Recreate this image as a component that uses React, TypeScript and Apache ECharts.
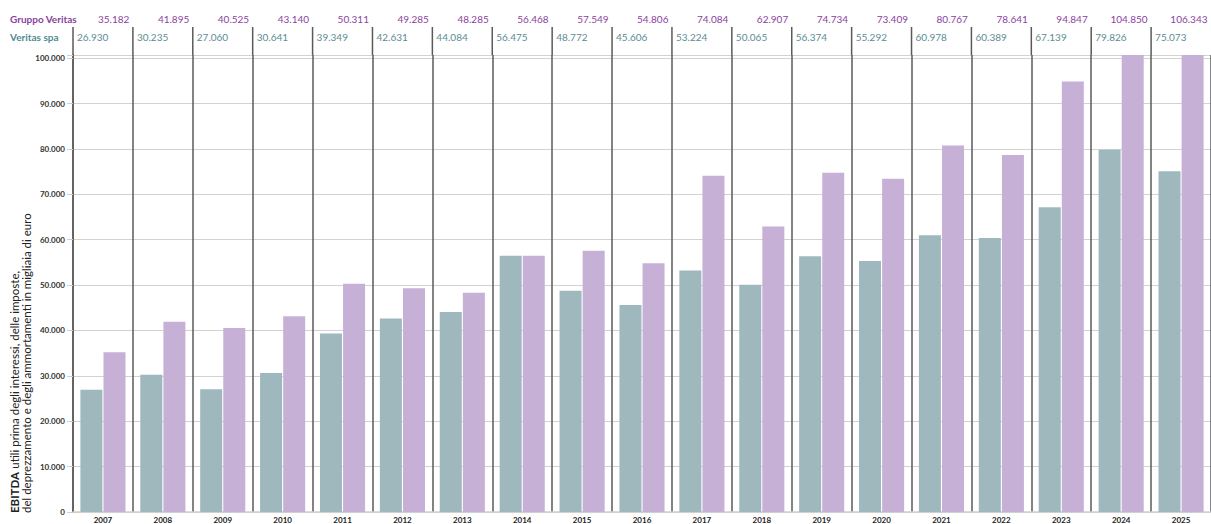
import React, { useEffect, useRef } from 'react';
import * as echarts from 'echarts';

const years = ['2007', '2008', '2009', '2010', '2011', '2012', '2013', '2014', '2015', '2016', '2017', '2018', '2019', '2020', '2021', '2022', '2023', '2024', '2025'];
const gruppoVeritas = [35182, 41895, 40525, 43140, 50311, 49285, 48285, 56468, 57549, 54806, 74084, 62907, 74734, 73409, 80767, 78641, 94847, 104850, 106343];
const veritasSpa = [26930, 30235, 27060, 30641, 39349, 42631, 44084, 56475, 48772, 45606, 53224, 50065, 56374, 55292, 60978, 60389, 67139, 79826, 75073];
const yTicks = [0, 10000, 20000, 30000, 40000, 50000, 60000, 70000, 80000, 90000, 100000];
const AXIS_MAX = 100700;

const FONT = 'Lato, "Noto Sans", sans-serif';
const PURPLE_TEXT = '#8b3fa0';
const TEAL_TEXT = '#5b8c93';
const TEAL_BAR = '#9fb8be';
const PURPLE_BAR = '#c6b0d6';
const SEP = '#5a5a5a';

const fmt = (v: number) => String(v).replace(/\B(?=(\d{3})+(?!\d))/g, '.');

export default function App() {
  const ref = useRef<HTMLDivElement>(null);
  useEffect(() => {
    if (!ref.current) return;
    const chart = echarts.init(ref.current, null, { renderer: 'svg' });
    chart.setOption({
      animation: false,
      backgroundColor: '#ffffff',
      grid: { left: 73, right: 0, top: 55, bottom: 12, containLabel: false },
      xAxis: {
        type: 'category',
        data: years,
        boundaryGap: true,
        axisLine: { show: true, lineStyle: { color: '#cfcfcf', width: 1.5 } },
        axisTick: { show: false },
        splitLine: { show: true, lineStyle: { color: SEP, width: 1.5 } },
        axisLabel: { color: '#222', fontSize: 8, fontWeight: 'bold', fontFamily: FONT, margin: 4 },
      },
      yAxis: {
        type: 'value',
        min: 0,
        max: AXIS_MAX,
        interval: 10000,
        axisLine: { show: true, lineStyle: { color: SEP, width: 1.5 } },
        axisTick: { show: true, length: 6, lineStyle: { color: '#cfcfcf' } },
        splitLine: { show: true, lineStyle: { color: '#d2d2d2', width: 1.2 } },
        axisLabel: {
          color: '#333',
          fontSize: 8,
          fontWeight: 'bold',
          fontFamily: FONT,
          margin: 8,
          formatter: (v: number) => (yTicks.indexOf(v) >= 0 ? fmt(v) : ''),
        },
      },
      series: [
        {
          name: 'Veritas spa',
          type: 'bar',
          data: veritasSpa,
          barWidth: 22,
          barGap: '5%',
          itemStyle: { color: TEAL_BAR },
          clip: true,
        },
        {
          name: 'Gruppo Veritas',
          type: 'bar',
          data: gruppoVeritas,
          barWidth: 22,
          barGap: '5%',
          itemStyle: { color: PURPLE_BAR },
          clip: true,
        },
      ],
    });

    const c0 = chart.convertToPixel({ xAxisIndex: 0 }, 0) as number;
    const c1 = chart.convertToPixel({ xAxisIndex: 0 }, 1) as number;
    const band = c1 - c0;
    const gridTop = chart.convertToPixel({ yAxisIndex: 0 }, AXIS_MAX) as number;
    const graphics: any[] = [
      {
        type: 'text', x: 10, y: 19,
        style: { text: 'Gruppo Veritas', fill: PURPLE_TEXT, font: `bold 10px ${FONT}`, align: 'left', verticalAlign: 'middle' },
      },
      {
        type: 'text', x: 10, y: 37,
        style: { text: 'Veritas spa', fill: '#4f8a93', font: `bold 10px ${FONT}`, align: 'left', verticalAlign: 'middle' },
      },
      {
        type: 'text', x: 20, y: 513, rotation: Math.PI / 2,
        style: {
          text: '{b|EBITDA} {n|utili prima degli interessi, delle imposte,}\n{n|del deprezzamento e degli ammortamenti in migliaia di euro}',
          align: 'left', verticalAlign: 'middle', fill: '#222',
          rich: {
            b: { fontWeight: 'bold', fontSize: 11.5, fontFamily: FONT, fill: '#222', lineHeight: 11.5 },
            n: { fontSize: 11.5, fontFamily: FONT, fill: '#222', lineHeight: 11.5 },
          },
        },
      },
    ];
    years.forEach((_, i) => {
      const cx = chart.convertToPixel({ xAxisIndex: 0 }, i) as number;
      const left = cx - band / 2;
      const right = cx + band / 2;
      graphics.push({
        type: 'line',
        shape: { x1: left, y1: 27, x2: left, y2: gridTop },
        style: { stroke: SEP, lineWidth: 1.5 },
      });
      graphics.push({
        type: 'text', x: right - 3.5, y: 19,
        style: { text: fmt(gruppoVeritas[i]), fill: PURPLE_TEXT, font: `10px ${FONT}`, align: 'right', verticalAlign: 'middle' },
      });
      graphics.push({
        type: 'text', x: left + 4, y: 37,
        style: { text: fmt(veritasSpa[i]), fill: TEAL_TEXT, font: `10px ${FONT}`, align: 'left', verticalAlign: 'middle' },
      });
    });
    chart.setOption({ graphic: graphics });

    return () => chart.dispose();
  }, []);
  return <div ref={ref} style={{ position: 'fixed', left: 0, top: 0, width: 1211, height: 524 }} />;
}
